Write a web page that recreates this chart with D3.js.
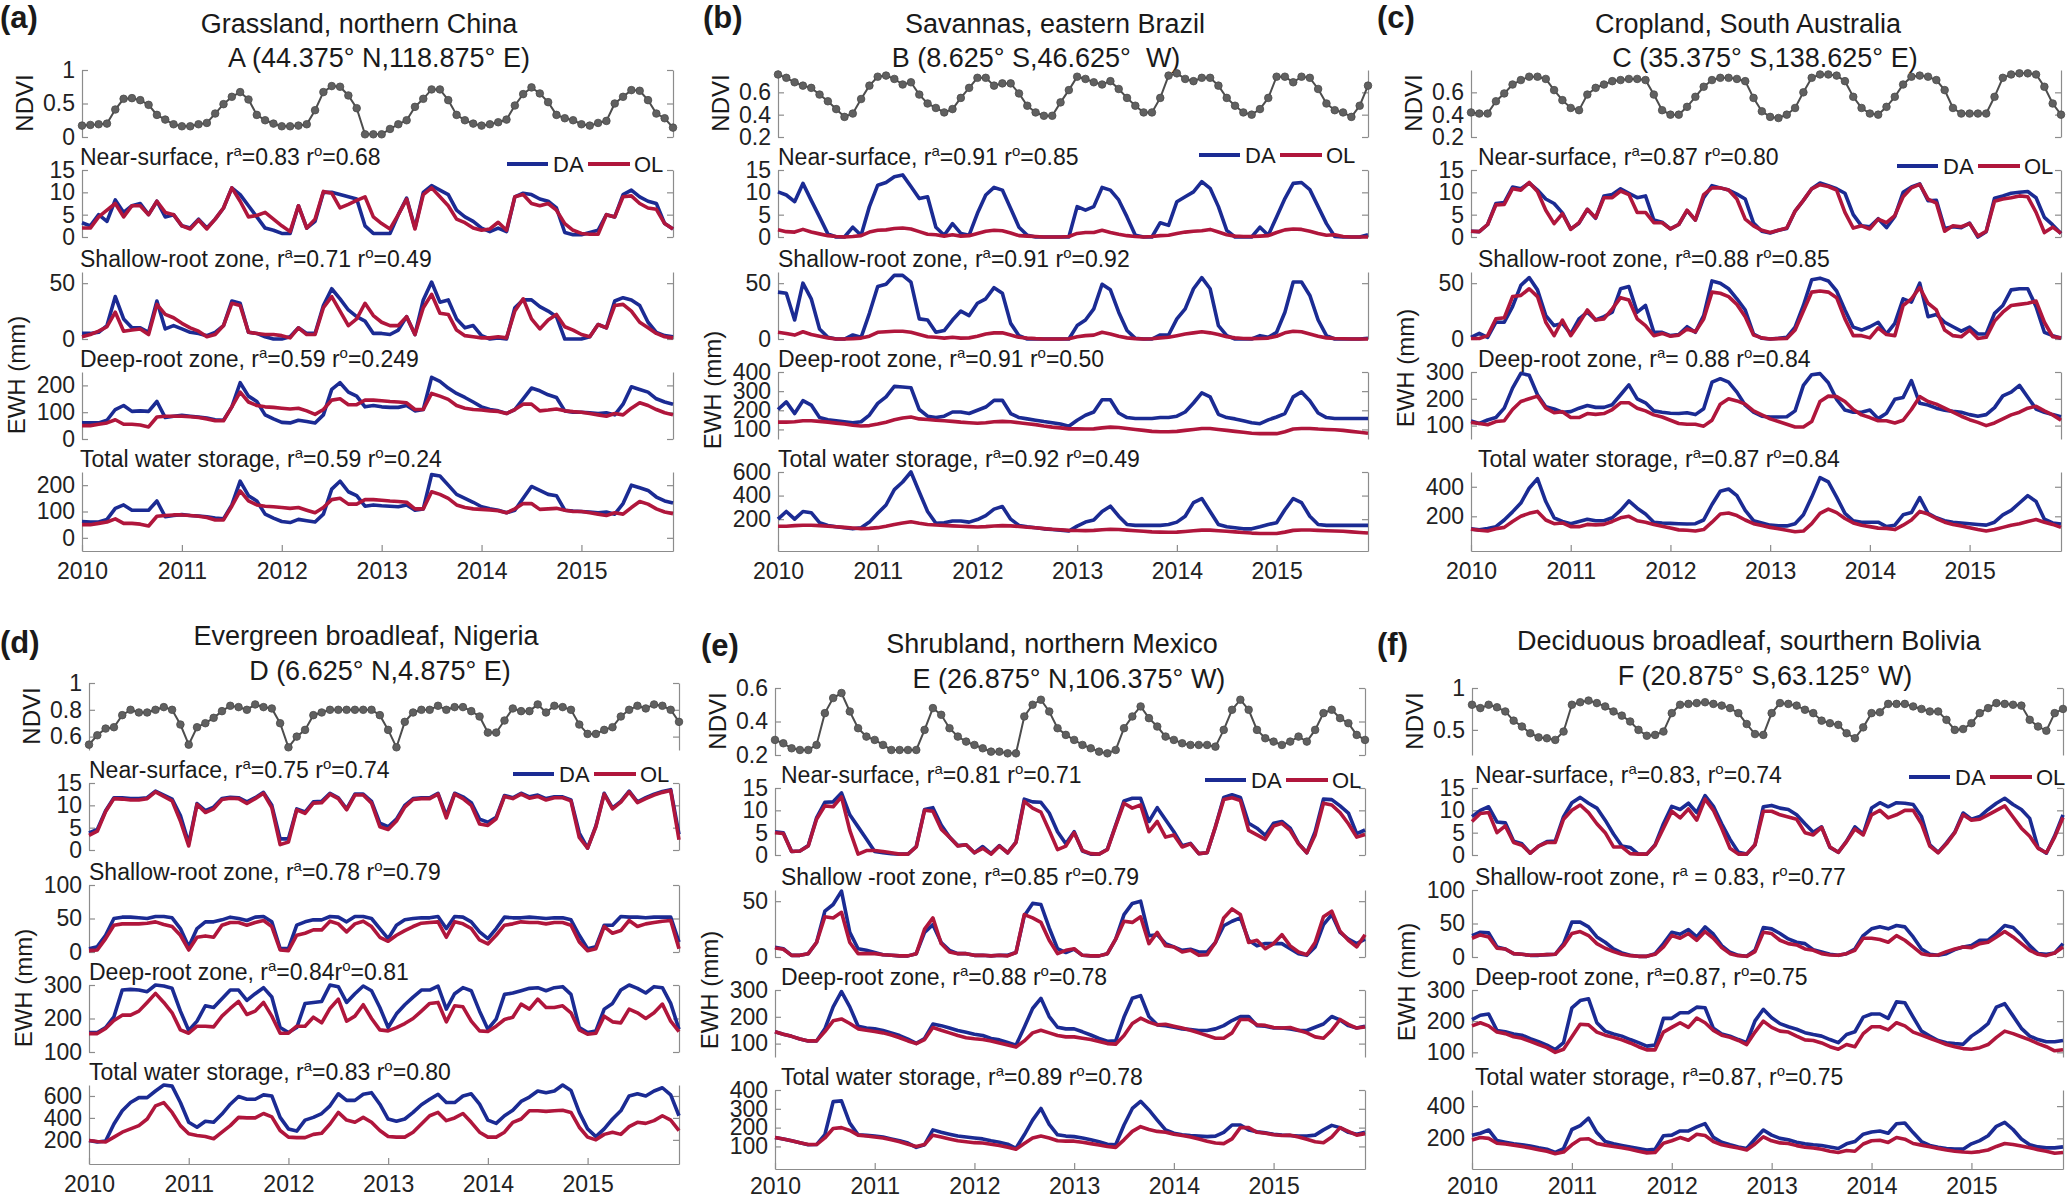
<!DOCTYPE html>
<html>
<head>
<meta charset="utf-8">
<script src="https://cdn.jsdelivr.net/npm/d3@7"></script>
<style>
  body { margin: 0; background: #fff; }
  svg { display: block; }
  text { font-family: "Liberation Sans", Arial, sans-serif; fill: #1a1a1a; }
  .title { font-size: 27px; white-space: pre; }
  .letter { font-size: 31px; font-weight: bold; }
  .sublab { font-size: 23px; white-space: pre; }
  .ylab { font-size: 24px; }
  .leg { font-size: 22px; }
  .axis text { font-size: 23px; fill: #222; }
  .axis path, .axis line { stroke: #8c8c8c; stroke-width: 1.2; }
</style>
</head>
<body>
<div id="chart"></div>
<script>
// monthly series, Jan 2010 .. Dec 2015
var years = [2010, 2011, 2012, 2013, 2014, 2015];

// ---------- (a) Grassland, northern China ----------
var ndviA = [.17,.18,.19,.20,.41,.57,.58,.55,.48,.33,.26,.19,
  .16,.16,.19,.21,.35,.49,.60,.67,.56,.33,.25,.20,
  .16,.16,.17,.19,.40,.67,.76,.75,.62,.43,.04,.04,
  .04,.12,.19,.25,.45,.57,.71,.71,.55,.33,.25,.20,
  .17,.19,.22,.26,.47,.64,.74,.65,.52,.33,.28,.25,
  .19,.17,.21,.24,.50,.60,.70,.69,.55,.35,.28,.14];
var nearDaA = [3.2,2.5,5,3.5,8.3,5.5,7,7.5,5,8,4.5,5,
  2.5,2,4,2,4,6.5,11,9.5,7,4.5,2,1.5,
  .8,.8,7,2,3.5,10,10,9.5,9,8.5,2.5,.8,
  .8,.8,5,8.7,2,10,11.5,10.5,9.5,6,4.5,3.5,
  2,1.2,2,1.2,9,9.8,9.5,8.5,8,6.5,1,.5,
  .5,1,1.5,5,4.5,9.5,10.5,9,8,7.5,3,1.8];
var nearOlA = [2,2,4.5,6,7.5,4.5,7,7,5,8,5.5,5,
  2.5,1.8,3.8,1.8,4,6.5,11,8,4.5,4.8,5.5,4,
  2.5,1.2,7,2,4,10.2,9.8,6.5,7.3,8.2,9,4.5,
  3,1.8,5,8.5,1.8,9.5,11,9,7,4,3.2,2,
  1.5,1.8,3.3,1.5,9,9.5,7.5,7,7.5,6,3,1.5,
  .8,.6,.6,5,4.5,9,9.2,7.5,6.5,6.2,3,1.8];
var shallowDaA = [5,5,6,12,38,18,10,10,6,34,9,12,
  9,6,5,3,6,12,34,32,6,5,2,0,
  0,2,10,5,5,30,45,36,26,20,16,5,
  5,4,8,20,4,35,51,33,35,18,10,12,
  3,0,1,0,28,35,35,29,25,20,0,0,
  0,2,13,10,34,37,35,30,15,6,3,2];
var shallowOlA = [2,4,7,11,24,7,8,9,4,31,22,19,
  14,10,7,2,4,12,32,30,6,5,4,4,
  3,1,10,4,4,28,38,25,12,18,32,21,
  15,12,12,20,4,28,40,23,22,8,3,2,
  1,1,2,1,25,36,18,9,17,22,11,8,
  4,2,13,10,30,31,25,15,10,5,2,1];
var deepDaA = [60,60,60,70,110,125,103,105,103,140,80,85,
  88,85,82,78,72,70,120,210,160,140,90,75,
  62,60,70,65,60,90,185,210,175,160,120,125,
  120,118,118,125,105,110,230,215,190,170,155,138,
  120,110,105,95,110,150,190,180,165,155,105,100,
  100,98,95,98,90,130,195,185,175,150,138,130];
var deepOlA = [50,50,55,60,72,55,55,52,45,82,85,85,
  85,83,80,75,68,68,120,175,138,125,120,118,
  115,112,115,105,92,110,145,150,128,128,145,145,
  143,140,138,135,110,110,170,160,148,125,115,110,
  108,105,103,95,110,130,130,105,108,112,105,102,
  100,95,90,85,95,90,115,135,125,110,98,90];
var totalDaA = [62,60,60,70,112,125,105,105,105,140,80,85,
  88,85,83,80,75,72,125,215,160,140,90,75,
  62,58,70,65,60,90,185,215,175,160,120,125,
  122,120,118,125,105,110,240,235,200,165,150,135,
  118,110,105,95,105,150,195,180,165,160,105,102,
  100,98,95,98,90,130,200,190,180,155,140,132];
var totalOlA = [50,50,55,60,72,55,55,52,45,82,85,87,
  87,85,82,77,68,68,120,178,140,125,120,118,
  115,112,115,105,95,115,145,150,128,128,145,145,
  143,140,138,135,110,110,175,165,150,125,115,110,
  108,106,103,95,110,130,130,108,110,112,105,100,
  100,95,90,85,95,90,115,138,128,110,98,92];

// ---------- (b) Savannas, eastern Brazil ----------
var ndviB = [.76,.73,.69,.66,.64,.58,.52,.45,.38,.41,.54,.66,
  .74,.75,.72,.67,.69,.58,.50,.46,.42,.45,.55,.64,
  .73,.73,.66,.68,.68,.59,.48,.42,.39,.39,.51,.62,
  .74,.72,.69,.67,.70,.63,.55,.48,.42,.42,.55,.75,
  .77,.72,.70,.73,.73,.66,.55,.48,.42,.40,.45,.55,
  .74,.74,.69,.74,.73,.63,.50,.44,.42,.38,.48,.66];
var nearDaB = [10.1,9.4,7.9,12,8.2,4.5,.7,0,0,2.2,.4,6.8,
  11.6,12.2,13.5,13.9,11.3,8.6,9,2.2,.4,3,.8,.4,
  5.3,9.4,11.1,10.5,6.4,2.2,.4,0,0,0,0,0,
  6.8,6,6.8,11.1,10.5,8.3,4.5,.4,0,0,3.2,2.6,
  7.9,9,10.1,12.4,10.9,6.8,1.5,0,0,0,2.2,.4,
  4.5,8.6,12,12.2,10.6,6.8,3,.1,0,0,0,.5];
var nearOlB = [1.6,1.2,1.1,1.7,1.1,.7,.3,.1,0,.1,.3,1.1,
  1.5,1.6,1.9,2,1.8,1.2,.6,.5,.2,.5,.2,.3,
  .8,1.3,1.5,1.4,.9,.3,.2,.1,0,0,0,.1,
  .8,1,1,1.5,1,.6,.3,.1,0,.1,.3,.4,
  .8,1.1,1.3,1.4,1.7,1.1,.5,.2,.1,.1,.2,.3,
  1,1.6,1.8,1.7,1.3,.8,.4,.5,.1,0,0,0];
var shallowDaB = [42,41,17,50,36,9,1.5,0,0,3.6,1.5,23,
  47,49,57,57,51,18,17,6,7.6,17,25,21,
  32,36,46,41,14,3,0,0,0,0,0,0,
  12,17,27,49,44,24,7.6,.6,0,0,3.6,3.6,
  18,27,45,55,45,12,3,0,0,0,3,1.5,
  6,24,51,51,39,17,3,0,0,0,0,.6];
var shallowOlB = [6,5,3.5,6.5,4,2.5,1,0,0,.3,.8,2.5,
  6,6.5,7,7,6,4,2,1.5,.8,1.5,.8,1,
  2.5,4.5,5.5,5.5,3.5,1.5,.8,.3,0,0,0,.2,
  2,3,3.5,6,4.5,2.5,1,.3,0,.2,1,1.5,
  3,4.5,5.5,6.5,5.5,4,2,1,.5,.3,.5,.8,
  2.5,5.5,7,6.5,4.5,2.5,1,.5,.2,0,0,0];
var deepDaB = [204,244,183,250,227,162,150,145,140,135,140,175,
  236,270,325,322,318,204,169,162,169,191,191,183,
  200,217,252,252,183,162,155,148,141,135,128,117,
  148,174,191,255,255,186,162,157,157,157,162,162,
  169,191,238,291,270,179,162,155,145,135,130,150,
  165,183,270,296,250,186,162,157,157,157,157,157];
var deepOlB = [138,138,140,145,145,142,138,133,128,122,118,120,
  128,138,150,160,165,155,152,148,145,142,138,135,
  132,135,140,142,140,135,130,125,118,112,108,103,
  103,102,103,108,112,110,105,100,95,90,88,88,
  90,95,100,105,105,100,95,90,85,80,78,78,
  78,88,102,105,105,102,100,98,95,90,85,80];
var totalDaB = [200,265,200,265,255,170,147,135,127,118,127,175,
  250,320,450,515,600,430,265,165,170,185,185,175,
  197,230,285,307,200,147,135,127,118,113,107,99,
  141,175,192,265,310,225,155,147,147,147,147,155,
  175,225,340,375,265,155,135,127,118,118,135,155,
  170,280,375,340,225,155,147,147,147,147,147,147];
var totalOlB = [140,140,145,148,148,145,140,135,130,125,120,122,
  128,140,155,168,178,165,155,150,147,143,140,137,
  134,137,142,145,143,138,132,127,120,114,110,105,
  104,103,105,110,114,112,107,102,97,92,90,89,
  90,96,102,107,107,102,97,92,87,82,79,78,
  78,90,105,108,108,105,102,100,97,92,87,82];

// ---------- (c) Cropland, South Australia ----------
var ndviC = [.42,.41,.41,.52,.59,.67,.71,.74,.74,.72,.62,.53,
  .46,.44,.58,.64,.67,.70,.71,.72,.72,.71,.58,.44,
  .40,.40,.47,.56,.65,.71,.73,.73,.72,.70,.55,.43,
  .38,.37,.40,.46,.60,.73,.76,.76,.75,.70,.56,.46,
  .41,.40,.47,.56,.67,.74,.75,.74,.71,.62,.46,.41,
  .41,.41,.41,.56,.73,.76,.77,.77,.76,.65,.50,.40];
var nearDaC = [1.3,1.2,2.8,7.5,7.7,11.2,10.8,12.1,10.5,8.5,7.5,5.4,
  1.8,3.1,6.2,4.2,9.2,9.5,10.8,9.8,8.8,9.2,3.8,3.3,
  1.8,2.8,5.9,3.8,8.8,11.5,11,10.5,9.6,8.5,3.1,1.3,
  .9,1.5,1.9,5.8,8.2,10.8,12.1,11.5,10.8,9.8,5,2.5,
  2.3,4.1,2.1,4.6,10,11.2,11.9,8.1,8.2,1.9,2.3,2.1,
  3.1,0,1.2,8.7,9.2,9.8,10,10.2,8.8,4.4,2.7,.8];
var nearOlC = [1.3,1.2,2.8,7.2,7.3,10.8,10.5,12.2,10.2,6,3,5.2,
  1.7,3.2,6.2,4.3,8.8,8.8,10.3,9.5,5.5,5.5,3.2,3.2,
  1.8,2.8,6,3.8,9.5,11,11,10.5,8.5,4,2.5,1.5,
  1,1.5,2,5.8,8.2,10.8,11.7,11.3,10.5,5.5,2,2.5,
  1.8,4,3.2,4.8,9,11,11.8,8.5,7.6,1.3,2.5,2.3,
  3,.2,1.3,8,8.5,8.8,9.2,9,5.5,1,2.2,.8];
var shallowDaC = [1.5,5,1.5,15,15,29,48,55,44,21,12,14,
  4.5,18,24,17,20,24,45,47,24,30,6,6,
  3,4,11,6,21,52,50,45,36,26,4.5,.6,
  0,.6,1.5,10.6,30,53,54.5,52,43,26,10.6,8,
  11,15,4.5,14,36,33,50,20,22,15,11,7,
  10.6,4.5,4.5,23,30,44,45,45,29,6,3,.6];
var shallowOlC = [.5,.5,3,18,19,38,39,45,38,15,3,17,
  3,14,26,17,18,27,37,35,18,12,3,5,
  2.5,3.5,9,6.5,18,42,41,38,31,20,3.5,1,
  0,.3,.5,8,25,42,43,42,37,18,3,3,
  1,10,4,3,30,36,46,32,26,8,3,2,
  8,.5,1.5,16,24,30,31,32,34,15,2,1];
var deepDaC = [117,108,121,130,165,240,295,288,215,170,162,150,
  152,165,175,168,168,178,215,252,200,185,155,150,
  146,145,148,141,163,262,275,262,225,176,150,135,
  132,132,133,155,250,290,294,260,198,158,150,150,
  158,126,146,198,205,268,183,177,165,157,153,150,
  141,135,141,167,211,225,250,206,162,150,141,133];
var deepOlC = [112,108,103,115,118,160,190,200,210,165,148,152,
  130,130,145,142,145,160,185,185,165,155,140,132,
  120,108,105,105,98,120,180,200,192,180,155,140,
  125,115,105,95,95,115,190,210,208,190,160,140,
  130,118,118,110,120,160,208,190,180,165,150,135,
  122,112,100,110,125,140,150,165,172,155,140,120];
var totalDaC = [115,108,118,130,175,230,290,390,455,300,190,165,
  150,165,180,170,170,190,240,304,255,215,160,155,
  152,150,148,150,175,280,370,385,340,240,170,155,
  140,135,135,150,210,330,462,433,330,220,170,160,
  160,160,130,140,210,225,327,220,190,170,160,155,
  150,145,140,160,210,240,290,340,300,180,155,148];
var totalOlC = [112,105,100,115,125,165,200,220,233,175,150,155,
  130,130,145,142,145,165,190,200,170,160,145,132,
  120,108,105,100,110,160,215,222,205,175,150,138,
  125,115,105,95,100,150,220,249,225,185,155,140,
  130,120,118,110,140,175,233,215,185,160,145,135,
  122,110,100,110,125,140,150,165,178,160,145,125];

// ---------- (d) Evergreen broadleaf, Nigeria ----------
var ndviD = [.54,.61,.66,.67,.76,.80,.78,.78,.80,.82,.80,.69,
  .54,.67,.70,.74,.79,.83,.82,.80,.84,.82,.81,.70,
  .52,.60,.65,.76,.78,.80,.80,.80,.80,.80,.80,.76,
  .65,.52,.71,.78,.80,.80,.83,.80,.82,.82,.79,.75,
  .63,.63,.72,.81,.79,.79,.84,.78,.83,.82,.80,.69,
  .62,.62,.65,.67,.75,.80,.83,.81,.84,.83,.80,.71];
var nearDaD = [3.8,4.6,8.8,11.7,11.7,11.5,11.5,11.7,13.2,12.3,11.4,7.7,
  1.5,10.4,8.8,9.6,11.5,11.8,11.7,10.8,11.7,12.9,10,2.5,
  2.5,9.2,8.5,10.8,10.9,12.7,11.7,9.2,12.5,12.5,10.9,6,
  5.2,6.9,10,11.5,11.7,11.7,12.7,7.7,12.7,11.9,10.6,6.9,
  6.2,7.3,12.2,11.7,12.7,11.9,12.3,11.5,11.9,11.9,11.2,3.8,
  .4,5.4,12.7,9.4,10.9,13.2,10.8,11.7,12.5,13.1,13.5,3.5];
var nearOlD = [3.3,4.2,8.6,11.5,11.4,11.2,11.2,11.5,13,12,11,6.5,
  .9,10.2,8.4,9.2,11.3,11.6,11.5,10.4,11.5,12.7,9.5,1.2,
  1.8,9,8.2,10.5,10.6,12.5,11.5,9,12.3,12.3,10.5,5.2,
  4.6,6.5,9.6,11.3,11.5,11.5,12.5,7.2,12.5,11.5,10,5.8,
  5.5,7,12,11.5,12.5,11.6,12,11.2,11.7,11.7,11,2.8,
  .4,5.2,12.5,9.2,10.7,13,10.6,11.5,12.3,12.9,13.3,2.3];
var shallowDaD = [5,8,25,50,52,52,51,50,53,53,51,35,
  8,35,45,45,48,52,50,47,52,53,45,5,
  5,40,45,48,48,53,52,45,53,53,50,35,
  20,40,48,50,51,51,53,35,53,52,45,30,
  20,35,52,51,51,52,51,50,51,51,48,25,
  5,8,40,40,53,52,52,51,52,52,52,15];
var shallowOlD = [2,3,20,40,42,42,42,43,45,41,38,25,
  3,22,24,22,40,44,44,40,44,47,38,3,
  2,25,28,33,33,46,42,30,42,46,38,22,
  16,25,32,38,43,44,45,22,45,42,35,18,
  12,25,40,42,45,44,44,42,44,44,40,15,
  2,5,38,28,32,47,38,42,44,46,47,5];
var deepDaD = [158,158,173,205,285,287,285,280,300,297,290,222,
  164,192,238,233,259,285,285,254,274,292,264,173,
  158,173,245,248,251,300,295,248,274,297,283,233,
  173,214,241,264,285,285,297,228,274,292,283,222,
  168,198,272,276,283,290,292,283,292,295,272,173,
  158,163,228,245,285,300,290,276,295,292,245,168];
var deepOlD = [155,155,170,194,210,210,222,248,275,248,217,166,
  156,177,177,175,207,230,251,212,222,248,207,156,
  156,177,177,204,187,230,258,192,207,241,200,166,
  163,173,185,200,222,245,248,190,238,235,192,163,
  161,177,197,204,243,228,258,233,233,238,217,166,
  153,156,207,190,187,228,217,200,217,243,192,161];
var totalDaD = [195,180,190,345,465,540,585,585,645,700,690,540,
  360,315,370,360,435,525,595,570,570,610,600,405,
  300,280,380,405,440,510,620,560,560,615,630,525,
  390,370,390,450,520,570,615,540,540,600,620,525,
  380,350,420,470,550,590,645,630,645,700,650,450,
  300,230,300,390,465,600,620,600,645,675,610,420];
var totalOlD = [195,185,180,225,270,300,330,390,510,540,450,330,
  255,240,230,210,270,330,405,400,400,440,410,285,
  225,220,220,250,260,345,450,380,360,405,360,285,
  230,225,225,270,345,420,450,375,400,440,360,270,
  225,225,270,360,390,465,465,460,465,470,450,315,
  225,200,250,270,250,320,360,350,375,420,380,285];

// ---------- (e) Shrubland, northern Mexico ----------
var ndviE = [.29,.27,.24,.23,.23,.26,.45,.54,.57,.46,.36,.31,
  .29,.26,.23,.23,.23,.23,.35,.48,.44,.36,.31,.28,
  .26,.24,.22,.22,.21,.21,.43,.50,.53,.46,.36,.32,
  .29,.26,.24,.22,.21,.23,.36,.43,.49,.42,.37,.31,
  .29,.27,.26,.26,.26,.25,.35,.47,.53,.47,.35,.30,
  .28,.26,.28,.31,.28,.35,.45,.47,.42,.39,.32,.29];
var nearDaE = [5.2,5,.8,.9,2.1,8.3,11.8,11.9,13.9,9,6.3,3.6,
  .8,.5,.3,.2,.2,1.9,10.2,10.6,6.7,4,2.1,2.3,
  .5,1.9,.3,2.1,.5,2.9,12.5,11.9,11.8,9.4,5.2,2.5,
  5.2,.9,.2,.2,1.3,6.7,12.1,12.7,12.7,7.5,10.6,7.9,
  5.2,2.1,2.6,.3,.5,6.3,12.9,13.5,12.9,7.1,6,4.4,
  7.1,7.5,6,2.6,.5,5.2,12.5,12.4,11,9.4,4.8,5.6];
var nearOlE = [5,4.8,.8,.9,2,8,11,10.8,13,5.5,.2,1,
  1,.8,.5,.2,.2,1.8,10,9.8,5.8,4,2,2.3,
  .5,1.5,.2,2,.5,2.8,12,10.5,9.6,5.5,1.2,2,
  5,1,.3,.2,1.2,6.5,11.6,10.5,11.2,5.2,7.5,4,
  4.5,1.8,2.5,.3,.5,6.3,12.4,12.8,12.2,5.5,4.5,3.5,
  6.5,7.1,5.5,2.5,.5,4.5,11.6,11.2,9.5,7,4,4.6];
var shallowDaE = [8.8,7.4,1.5,1.5,3,13,41,47,59,22,7.4,6,
  4,2,1.5,1,1,3,22,29,13,6,3,3,
  1.5,1.5,1,1.5,1.5,4,37,48,47,26,7.4,4,
  7,1.5,1,1,3,16,38,48,50,19,20,12,
  9,6,7,4.5,4.5,13,28,32,35,15,10,12,
  12,12,7.4,3,1.5,9,29,38,22,16,12,16];
var shallowOlE = [8,7,1.5,1.5,3,13,36,35,40,13,3,3,
  3,2,1.5,1,1,3,25,35,12,4.5,3,3,
  1.5,1.5,1,1.5,1,4,38,35,31,15,3,6,
  7.4,1.5,1,1,3,16,32,31,36,12,22,10,
  9,4.5,6,1.5,2,13,35,43,38,13,15,7.4,
  12,20,10,4.5,2,13,36,41,23,15,9,20];
var deepDaE = [144,135,127,117,110,110,155,237,294,237,165,158,
  155,149,140,130,117,101,119,173,167,158,149,142,
  135,130,119,114,104,94,161,231,269,201,161,155,
  155,144,132,119,109,110,199,269,279,201,170,167,
  161,155,152,149,149,155,167,186,201,201,167,165,
  158,158,155,149,149,161,173,201,188,167,158,165];
var deepOlE = [144,135,127,117,110,110,145,185,192,175,155,150,
  145,140,132,122,110,100,115,160,150,140,130,122,
  118,115,110,102,95,87,110,140,150,140,130,125,
  125,120,115,108,100,98,130,175,195,180,170,172,
  165,158,150,140,130,120,120,140,190,190,170,168,
  160,158,160,150,140,125,120,150,190,172,158,162];
var totalDaE = [148,140,130,120,109,110,162,338,342,224,162,159,
  155,150,140,130,118,95,109,188,175,165,155,150,
  145,140,130,122,112,90,162,240,302,217,162,155,
  152,145,135,125,112,109,214,302,340,294,240,188,
  170,162,158,155,152,155,175,214,214,188,178,172,
  165,160,158,155,155,160,188,212,200,175,165,175];
var totalOlE = [148,140,130,120,110,110,145,195,200,185,160,155,
  150,145,135,125,112,100,110,160,150,140,130,125,
  120,118,112,105,95,85,115,145,155,145,130,128,
  128,122,115,108,100,95,135,180,205,190,180,175,
  165,158,150,140,128,118,115,140,200,200,175,170,
  162,158,160,150,138,125,120,150,200,180,160,168];

// ---------- (f) Deciduous broadleaf, southern Bolivia ----------
var ndviF = [.80,.76,.80,.77,.72,.61,.54,.46,.41,.40,.38,.48,
  .80,.83,.85,.82,.78,.72,.67,.60,.50,.43,.44,.48,
  .70,.80,.81,.82,.83,.81,.79,.76,.70,.57,.45,.44,
  .70,.82,.81,.79,.74,.70,.61,.58,.56,.46,.40,.53,
  .70,.71,.81,.81,.81,.78,.75,.72,.72,.62,.50,.51,
  .58,.70,.76,.82,.81,.80,.79,.62,.54,.49,.70,.75];
var nearDaF = [8.6,10,10.8,7.4,7.2,3.1,2.5,.4,2,3,3.1,8.6,
  11.7,12.9,11.6,10.5,7.8,4.7,2,1.7,.2,.2,2.3,7,
  10.9,10.2,11.6,9.5,13.3,10.9,7,3.5,.6,.2,2.3,10.8,
  11.1,10.5,10.2,9,7,5.1,6.3,1.7,.6,3.1,6.3,4.7,
  10.5,11.7,10.8,11.7,11.6,11.3,8.6,2.3,.6,2.7,5.1,9.4,
  8,8.6,10.2,11.6,12.7,11.3,10.2,8.2,1.6,.4,4.3,9];
var nearOlF = [7.5,9.3,9.5,5,6.5,2.8,2.2,.4,2,2.8,2.8,8,
  10,11.2,9.5,7,5,1.8,1.8,.3,.2,.2,2.2,6,
  9.8,8.3,10.3,7.8,12.5,10,6,1.5,.2,.2,2.3,9.8,
  9.8,9,8.5,8,5,4.5,6.2,1.8,.6,3,5.8,4.5,
  9,10,8.3,9,10,10,7,2,.5,2.5,5,9,
  7.8,8,9,10,11,8.5,6,4.2,1.5,.5,4,8.4];
var shallowDaF = [32,37,36,15,12,5,4,2.5,2.5,3.5,4,20,
  52,52,45,30,22,12,6,2.5,1,1,5,20,
  37,34,41,30,45,34,17,7,2.5,1,10,44,
  42,35,27,22,20,11,7.5,4,2.5,5,12,32,
  42,45,42,47,45,30,12,4,2.5,5,11,15,
  17,25,25,35,47,44,32,17,5,4,6,20];
var shallowOlF = [28,33,30,13,12,5,4,2.5,3,3.5,4,17,
  35,38,32,20,13,8,4,2,1,1,4,15,
  32,28,35,25,38,28,14,5,2,1,8,37,
  35,25,20,18,12,10,5,3,2.5,5,10,28,
  28,26,22,32,25,15,5,2.5,3,8,12,15,
  14,20,22,30,38,30,20,10,4,2,6,15];
var deepDaF = [205,219,223,170,166,159,155,144,134,123,109,131,
  243,266,272,195,168,159,152,141,131,120,123,209,
  209,227,227,245,243,177,159,152,141,131,201,238,
  211,192,182,174,163,157,152,141,131,157,166,213,
  223,223,209,262,259,213,168,152,138,131,128,126,
  152,170,192,245,256,217,177,152,141,134,134,138];
var deepOlF = [185,195,185,165,160,150,145,135,125,115,100,110,
  150,190,188,165,155,148,140,130,118,108,108,165,
  180,195,180,210,195,170,155,148,138,125,165,200,
  180,168,165,152,140,138,130,118,110,125,118,160,
  182,182,172,195,185,165,155,145,135,125,118,112,
  110,115,125,148,168,160,150,140,128,118,105,108];
var totalDaF = [220,232,252,186,176,166,160,152,141,133,113,137,
  255,279,325,236,180,166,156,147,137,127,133,216,
  220,246,246,271,291,206,176,160,147,137,196,252,
  220,200,192,176,166,160,156,147,137,166,180,226,
  240,246,232,291,295,236,180,156,145,137,133,133,
  166,186,216,275,299,255,196,160,147,141,141,147];
var totalOlF = [190,205,200,170,165,158,150,140,130,120,105,115,
  160,195,198,168,158,150,142,132,120,110,112,170,
  185,205,188,225,218,180,160,150,140,128,165,210,
  185,172,168,155,145,140,132,120,112,125,120,165,
  185,188,175,205,195,168,158,148,138,128,120,115,
  112,118,128,150,168,162,152,142,130,120,108,112];

// tick labels
var ndviTicksA = [0, 0.5, 1], ndviTicksB = [0.2, 0.4, 0.6], ndviTicksC = [0.2, 0.4, 0.6];
var ndviTicksD = [0.6, 0.8, 1], ndviTicksE = [0.2, 0.4, 0.6], ndviTicksF = [0.5, 1];
var nearTicks = [0, 5, 10, 15];

var DA = "#1b2b93", OL = "#b0163c";
var T = d3.range(72).map(function(i) { return 2010 + i / 12; });

// panel table built from the arrays above
var panels = [
  { letter: "(a)", lx: 0, ly: 28, left: 82, right: 673, top: 0, t1y: 33, t2y: 67, coordX: 379, xPad: 12,
    title: "Grassland, northern China", coord: "A (44.375\u00b0 N,118.875\u00b0 E)",
    labDx: -2, legDx: 425, legDy: -6, ewhY: 375,
    ndvi: ndviA, ndviDom: [0, 1], ndviTicks: ndviTicksA,
    rows: [
      { lab: "Near-surface, r^a=0.83 r^o=0.68", da: nearDaA, ol: nearOlA, dom: [0, 15], ticks: nearTicks },
      { lab: "Shallow-root zone, r^a=0.71 r^o=0.49", da: shallowDaA, ol: shallowOlA, dom: [0, 60], ticks: [0, 50] },
      { lab: "Deep-root zone, r^a=0.59 r^o=0.249", da: deepDaA, ol: deepOlA, dom: [0, 250], ticks: [0, 100, 200] },
      { lab: "Total water storage, r^a=0.59 r^o=0.24", da: totalDaA, ol: totalOlA, dom: [-50, 250], ticks: [0, 100, 200] }] },
  { letter: "(b)", lx: 703, ly: 28, left: 778, right: 1368, top: 0, t1y: 33, t2y: 67, coordX: 1036, xPad: 12,
    title: "Savannas, eastern Brazil", coord: "B (8.625\u00b0 S,46.625\u00b0  W)",
    labDx: 0, legDx: 421, legDy: -15, ewhY: 390,
    ndvi: ndviB, ndviDom: [0.2, 0.8], ndviTicks: ndviTicksB,
    rows: [
      { lab: "Near-surface, r^a=0.91 r^o=0.85", da: nearDaB, ol: nearOlB, dom: [0, 15], ticks: nearTicks },
      { lab: "Shallow-root zone, r^a=0.91 r^o=0.92", da: shallowDaB, ol: shallowOlB, dom: [0, 60], ticks: [0, 50] },
      { lab: "Deep-root zone, r^a=0.91 r^o=0.50", da: deepDaB, ol: deepOlB, dom: [50, 400], ticks: [100, 200, 300, 400] },
      { lab: "Total water storage, r^a=0.92 r^o=0.49", da: totalDaB, ol: totalOlB, dom: [-70, 600], ticks: [200, 400, 600] }] },
  { letter: "(c)", lx: 1377, ly: 28, left: 1471, right: 2061, top: 0, t1y: 33, t2y: 67, coordX: 1765, xPad: 12,
    title: "Cropland, South Australia", coord: "C (35.375\u00b0 S,138.625\u00b0 E)",
    labDx: 7, legDx: 426, legDy: -4, ewhY: 368,
    ndvi: ndviC, ndviDom: [0.2, 0.8], ndviTicks: ndviTicksC,
    rows: [
      { lab: "Near-surface, r^a=0.87 r^o=0.80", da: nearDaC, ol: nearOlC, dom: [0, 15], ticks: nearTicks },
      { lab: "Shallow-root zone, r^a=0.88 r^o=0.85", da: shallowDaC, ol: shallowOlC, dom: [0, 60], ticks: [0, 50] },
      { lab: "Deep-root zone, r^a= 0.88 r^o=0.84", da: deepDaC, ol: deepOlC, dom: [50, 300], ticks: [100, 200, 300] },
      { lab: "Total water storage, r^a=0.87 r^o=0.84", da: totalDaC, ol: totalOlC, dom: [-35, 500], ticks: [200, 400] }] },
  { letter: "(d)", lx: 0, ly: 653, left: 89, right: 679, top: 613, t1y: 32, t2y: 67, coordX: 380, xPad: 12,
    title: "Evergreen broadleaf, Nigeria", coord: "D (6.625\u00b0 N,4.875\u00b0 E)",
    labDx: 0, legDx: 424, legDy: -9, ewhY: 375,
    ndvi: ndviD, ndviDom: [0.5, 1], ndviTicks: ndviTicksD,
    rows: [
      { lab: "Near-surface, r^a=0.75 r^o=0.74", da: nearDaD, ol: nearOlD, dom: [0, 15], ticks: nearTicks },
      { lab: "Shallow-root zone, r^a=0.78 r^o=0.79", da: shallowDaD, ol: shallowOlD, dom: [0, 100], ticks: [0, 50, 100] },
      { lab: "Deep-root zone, r^a=0.84r^o=0.81", da: deepDaD, ol: deepOlD, dom: [100, 300], ticks: [100, 200, 300] },
      { lab: "Total water storage, r^a=0.83 r^o=0.80", da: totalDaD, ol: totalOlD, dom: [-20, 700], ticks: [200, 400, 600] }] },
  { letter: "(e)", lx: 701, ly: 656, left: 775, right: 1365, top: 618, t1y: 35, t2y: 70, coordX: 1069, xPad: 9,
    title: "Shrubland, northern Mexico", coord: "E (26.875\u00b0 N,106.375\u00b0 W)",
    labDx: 6, legDx: 430, legDy: -8, ewhY: 372,
    ndvi: ndviE, ndviDom: [0.2, 0.6], ndviTicks: ndviTicksE,
    rows: [
      { lab: "Near-surface, r^a=0.81 r^o=0.71", da: nearDaE, ol: nearOlE, dom: [0, 15], ticks: nearTicks },
      { lab: "Shallow -root zone, r^a=0.85 r^o=0.79", da: shallowDaE, ol: shallowOlE, dom: [0, 60], ticks: [0, 50] },
      { lab: "Deep-root zone, r^a=0.88 r^o=0.78", da: deepDaE, ol: deepOlE, dom: [50, 300], ticks: [100, 200, 300] },
      { lab: "Total water storage, r^a=0.89 r^o=0.78", da: totalDaE, ol: totalOlE, dom: [-20, 400], ticks: [100, 200, 300, 400] }] },
  { letter: "(f)", lx: 1377, ly: 655, left: 1472, right: 2063, top: 618, t1y: 32, t2y: 67, coordX: 1765, xPad: 9,
    title: "Deciduous broadleaf, sourthern Bolivia", coord: "F (20.875\u00b0 S,63.125\u00b0 W)",
    labDx: 3, legDx: 437, legDy: -11, ewhY: 364,
    ndvi: ndviF, ndviDom: [0.2, 1], ndviTicks: ndviTicksF,
    rows: [
      { lab: "Near-surface, r^a=0.83, r^o=0.74", da: nearDaF, ol: nearOlF, dom: [0, 15], ticks: nearTicks },
      { lab: "Shallow-root zone, r^a = 0.83, r^o=0.77", da: shallowDaF, ol: shallowOlF, dom: [0, 100], ticks: [0, 50, 100] },
      { lab: "Deep-root zone, r^a=0.87, r^o=0.75", da: deepDaF, ol: deepOlF, dom: [85, 300], ticks: [100, 200, 300] },
      { lab: "Total water storage, r^a=0.87, r^o=0.75", da: totalDaF, ol: totalOlF, dom: [10, 500], ticks: [200, 400] }] }
];

var rowTops = [70, 170, 272, 372, 472];
var rowHeights = [67, 67, 67, 67, 79];

var svg = d3.select("#chart").append("svg")
  .attr("width", 2067)
  .attr("height", 1201);

function supLabel(sel, str) {
  var parts = str.split(/\^(.)/);
  parts.forEach(function(s, i) {
    if (i % 2 === 1) {
      sel.append("tspan").attr("dy", -9).style("font-size", "15px").text(s);
    } else {
      sel.append("tspan").attr("dy", i > 0 ? 9 : 0).text(s);
    }
  });
}

function drawPanel(p) {
  var g = svg.append("g");
  var x = d3.scaleLinear().domain([2010, 2010 + 71 / 12]).range([p.left, p.right]);

  g.append("text").attr("class", "letter").attr("x", p.lx).attr("y", p.ly).text(p.letter);
  g.append("text").attr("class", "title").attr("text-anchor", "middle")
    .attr("x", p.left + 277).attr("y", p.top + p.t1y).text(p.title);
  g.append("text").attr("class", "title").attr("text-anchor", "middle")
    .attr("x", p.coordX).attr("y", p.top + p.t2y).text(p.coord);

  var rows = [{ ndvi: p.ndvi, dom: p.ndviDom, ticks: p.ndviTicks }].concat(p.rows);

  rows.forEach(function(r, k) {
    var y0 = p.top + rowTops[k], y1 = y0 + rowHeights[k];
    var y = d3.scaleLinear().domain(r.dom).range([y1, y0]);

    g.append("g").attr("class", "axis")
      .attr("transform", "translate(" + p.left + ",0)")
      .call(d3.axisLeft(y).tickValues(r.ticks).tickSizeInner(-6).tickSizeOuter(0)
        .tickPadding(7).tickFormat(d3.format("~g")));
    g.append("g").attr("class", "axis")
      .attr("transform", "translate(" + p.right + ",0)")
      .call(d3.axisRight(y).tickValues(r.ticks).tickSizeInner(-6).tickSizeOuter(0).tickFormat(""));

    var line = d3.line()
      .x(function(d, i) { return x(T[i]); })
      .y(function(d) { return y(d); });

    if (r.ndvi) {
      g.append("path").datum(r.ndvi).attr("d", line)
        .attr("fill", "none").attr("stroke", "#4d4d4d").attr("stroke-width", 2);
      g.selectAll(null).data(r.ndvi).enter().append("circle")
        .attr("cx", function(d, i) { return x(T[i]); })
        .attr("cy", function(d) { return y(d); })
        .attr("r", 3.8)
        .attr("fill", "#606060").attr("stroke", "#4a4a4a").attr("stroke-width", 0.8);
      g.append("text").attr("class", "ylab").attr("text-anchor", "middle").attr("dy", "0.35em")
        .attr("transform", "translate(" + (p.left - 57) + "," + (p.top + 103) + ") rotate(-90)")
        .text("NDVI");
      return;
    }

    g.append("path").datum(r.da).attr("d", line)
      .attr("fill", "none").attr("stroke", DA).attr("stroke-width", 3.6).attr("stroke-linejoin", "round");
    g.append("path").datum(r.ol).attr("d", line)
      .attr("fill", "none").attr("stroke", OL).attr("stroke-width", 3.6).attr("stroke-linejoin", "round");

    supLabel(g.append("text").attr("class", "sublab")
      .attr("x", p.left + p.labDx).attr("y", y0 - 5), r.lab);

    if (k === 1) {
      var lx = p.left + p.legDx, ly = y0 + p.legDy;
      var leg = g.append("g");
      leg.append("line").attr("x1", lx).attr("x2", lx + 41).attr("y1", ly).attr("y2", ly)
        .attr("stroke", DA).attr("stroke-width", 4);
      leg.append("text").attr("class", "leg").attr("x", lx + 46).attr("y", ly + 8).text("DA");
      leg.append("line").attr("x1", lx + 81).attr("x2", lx + 123).attr("y1", ly).attr("y2", ly)
        .attr("stroke", OL).attr("stroke-width", 4);
      leg.append("text").attr("class", "leg").attr("x", lx + 127).attr("y", ly + 8).text("OL");
    }

    if (k === 4) {
      g.append("g").attr("class", "axis")
        .attr("transform", "translate(0," + y1 + ")")
        .call(d3.axisBottom(x).tickValues(years).tickSizeInner(-6).tickSizeOuter(0)
          .tickPadding(p.xPad).tickFormat(d3.format("d")));
    }
  });

  g.append("text").attr("class", "ylab").attr("text-anchor", "middle").attr("dy", "0.35em")
    .attr("transform", "translate(" + (p.left - 65) + "," + (p.top + p.ewhY) + ") rotate(-90)")
    .text("EWH (mm)");
}

panels.forEach(drawPanel);
</script>
</body>
</html>
